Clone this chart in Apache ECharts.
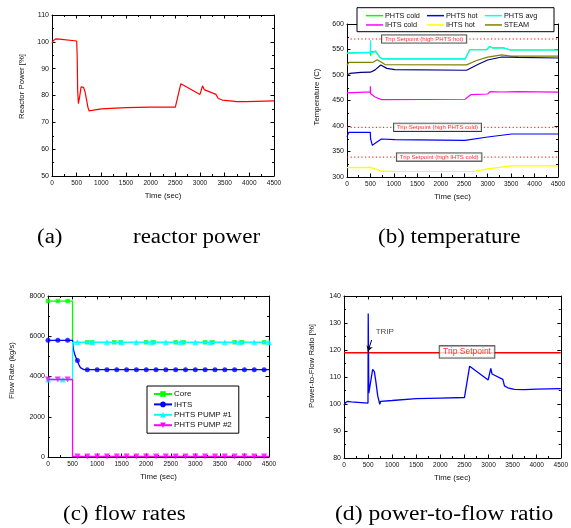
<!DOCTYPE html>
<html>
<head>
<meta charset="utf-8">
<title>Transient results</title>
<script src="https://cdn.jsdelivr.net/npm/echarts@6/dist/echarts.min.js"></script>
<style>
  html, body { margin: 0; padding: 0; background: #fff; }
  #chart { width: 571px; height: 528px; }
</style>
</head>
<body>
<div id="chart"></div>
<script>
// (a) reactor power [%] vs time (sec)
const power = [[0, 99.5], [20, 100.3], [75, 101.1], [150, 101], [500, 100.3], [510, 95], [520, 82], [535, 77],
  [560, 79.5], [590, 83.2], [605, 83.7], [640, 83], [670, 81.4], [700, 78.5], [730, 75.5], [751, 74.3], [770, 74.8],
  [791, 75], [1000, 75], [1500, 75.5], [2000, 75.7], [2500, 75.7], [2612, 84.4], [3000, 80.4], [3051, 83.6],
  [3085, 82.2], [3322, 80.4], [3370, 78.9], [3450, 78.3], [3606, 78], [3750, 77.7], [3944, 77.7], [4500, 78]]

// (b) temperatures [C]
const phtsCold = [[0, 543], [30, 544.5], [495, 544.5], [500, 548], [505, 538], [512, 546], [525, 543], [560, 546],
  [610, 546], [700, 535], [757, 531.5], [2520, 531.5], [2620, 549.5], [2980, 549.5], [3040, 556], [3110, 553],
  [3350, 553], [3490, 549], [4500, 549]]
const phtsHot = [[0, 378.4], [35, 387.6], [497, 387.6], [503, 375], [540, 362], [600, 366], [734, 374.5],
  [1020, 373.2], [2517, 371.9], [3000, 378.4], [3513, 384.3], [4500, 384.3]]
const phtsAvg = [[0, 543], [30, 544.5], [498, 544.5], [500, 568], [503, 544.5], [560, 544.5], [610, 547.5],
  [650, 545], [700, 535], [757, 531.5], [2520, 531.5], [2620, 549.5], [2980, 549.5], [3040, 556], [3110, 553],
  [3350, 553], [3490, 549], [4500, 549]]
const ihtsCold = [[0, 465], [30, 467], [497, 467], [500, 478], [504, 463], [540, 460], [600, 457], [734, 451.8],
  [2517, 452.5], [2638, 461.4], [3000, 462.7], [3050, 467.3], [3300, 466.7], [3650, 467.3], [4500, 466.5]]
const ihtsHot = [[0, 318.3], [500, 318.9], [520, 317], [734, 311.5], [1000, 311.2], [2700, 310.8], [3000, 316],
  [3513, 322], [4500, 321.8]]
const steam = [[0, 519], [40, 524.7], [498, 524.7], [515, 521.5], [560, 525], [640, 530], [700, 527], [810, 520.4],
  [2550, 519.8], [2750, 528], [3000, 535], [3300, 539.5], [3500, 537], [4500, 537]]
const phtsHotOut = [[0, 500], [60, 503], [300, 505], [500, 505.5], [530, 503], [600, 510], [720, 519.6],
  [850, 513], [1020, 510.5], [2550, 509.3], [2800, 521], [3000, 529.4], [3300, 535.3], [3650, 534.6], [4500, 533.3]]
const tripPHTSHot = 570.6
const tripPHTSCold = 397.4
const tripIHTSCold = 339
const tripTextsB = [[1645, tripPHTSHot, 'Trip Setpoint (high PHTS hot)'],
  [1930, tripPHTSCold, 'Trip Setpoint (high PHTS cold)'],
  [1965, tripIHTSCold, 'Trip Setpoint (high IHTS cold)']]

// (c) flow rates [kg/s]
const coreLine = [[0, 7750], [500, 7750], [500, 5700], [4500, 5700]]
const coreMarks = [[0, 7750], [200, 7750], [400, 7750], [800, 5700], [900, 5700], [1350, 5700], [1480, 5700],
  [2000, 5700], [2150, 5700], [2600, 5700], [2760, 5700], [3200, 5700], [3350, 5700], [3800, 5700], [3950, 5700],
  [4400, 5700]]
const ihtsLine = [[0, 5800], [500, 5800], [510, 5500], [522, 5310], [550, 5050], [590, 4820], [630, 4580],
  [660, 4440], [700, 4360], [730, 4340], [4500, 4340]]
const ihtsMarks = [[0, 5800], [200, 5800], [400, 5800], [600, 4800], [800, 4340], [1000, 4340], [1200, 4340],
  [1400, 4340], [1600, 4340], [1800, 4340], [2000, 4340], [2200, 4340], [2400, 4340], [2600, 4340], [2800, 4340],
  [3000, 4340], [3200, 4340], [3400, 4340], [3600, 4340], [3800, 4340], [4000, 4340], [4200, 4340], [4400, 4340]]
const pump1Line = [[0, 3850], [500, 3850], [500, 5700], [4500, 5700]]
const pump1Marks = [[0, 3850], [300, 3850], [600, 5700], [900, 5700], [1200, 5700], [1500, 5700], [1800, 5700],
  [2100, 5700], [2400, 5700], [2700, 5700], [3000, 5700], [3300, 5700], [3600, 5700], [3900, 5700], [4200, 5700],
  [4500, 5700]]
const pump2Line = [[0, 3850], [500, 3850], [500, 30], [4500, 30]]
const pump2Marks = [[0, 3850], [200, 3850], [400, 3850], [600, 30], [800, 30], [1000, 30], [1200, 30], [1400, 30],
  [1600, 30], [1800, 30], [2000, 30], [2200, 30], [2400, 30], [2600, 30], [2800, 30], [3000, 30], [3200, 30],
  [3400, 30], [3600, 30], [3800, 30], [4000, 30], [4200, 30], [4400, 30]]

// (d) power-to-flow ratio [%]
const ratio = [[0, 99.5], [30, 100.5], [80, 101], [150, 100.8], [498, 100.3], [503, 133.5], [515, 104],
  [530, 104.5], [560, 109], [595, 112.8], [630, 112], [660, 108.5], [700, 103], [743, 99.9], [760, 101],
  [800, 101.2], [1000, 101.3], [1500, 102], [2000, 102.2], [2500, 102.4], [2608, 114], [2993, 108.9],
  [3047, 113.2], [3074, 111.1], [3297, 109.1], [3331, 106.7], [3400, 106], [3534, 105.4], [3750, 105.3],
  [4000, 105.5], [4500, 105.7]]
const tripRatio = 119
const tripTextD = [2554, 119.3, 'Trip Setpoint']
const tripNote = [847, 126.7, 'TRIP']
const tripArrow = [[574, 123.7], [500, 119.6]]

const SANS = 'Arial, "Liberation Sans", sans-serif'
const SERIF = '"Times New Roman", "Liberation Serif", serif'

const chart = echarts.init(document.getElementById('chart'), null, { renderer: 'canvas' })

// axis pieces shared by all four panels
const tick = { inside: true, length: 3.5, lineStyle: { color: '#000', width: 1 } }
const minor = { show: true, splitNumber: 2, length: 2, lineStyle: { color: '#000', width: 1 } }
const line = { onZero: false, lineStyle: { color: '#000', width: 1 } }
const plainNum = v => String(v)

function xAxes (g) {
  const base = { gridIndex: g, type: 'value', min: 0, max: 4500, interval: 500, axisLine: line,
    axisTick: tick, minorTick: minor, splitLine: { show: false } }
  return [
    Object.assign({}, base, {
      name: 'Time (sec)', nameLocation: 'middle', nameGap: 16,
      nameTextStyle: { fontSize: 7.8, color: '#111', fontFamily: SANS },
      axisLabel: { fontSize: 6.5, margin: 4, color: '#111', fontFamily: SANS, formatter: plainNum }
    }),
    Object.assign({}, base, { position: 'top', axisLabel: { show: false } })
  ]
}

function yAxes (g, min, max, step, name, gap, pad) {
  const base = { gridIndex: g, type: 'value', min: min, max: max, interval: step, axisLine: line,
    axisTick: tick, minorTick: minor, splitLine: { show: false } }
  return [
    Object.assign({}, base, {
      name: name, nameLocation: 'middle', nameGap: gap,
      nameTextStyle: { fontSize: 7.8, color: '#111', fontFamily: SANS, padding: pad },
      axisLabel: { fontSize: 7, margin: 3, color: '#111', fontFamily: SANS, formatter: plainNum }
    }),
    Object.assign({}, base, { position: 'right', axisLabel: { show: false } })
  ]
}

function plain (name, data, color, axis, width) {
  return { name: name, type: 'line', data: data, xAxisIndex: axis, yAxisIndex: axis,
    symbol: 'none', showSymbol: false, lineStyle: { color: color, width: width || 1.2 },
    itemStyle: { color: color }, z: 2 }
}

function marked (name, lineData, marks, color, symbol, size, rotate) {
  return [
    { name: name, type: 'line', data: lineData, xAxisIndex: 4, yAxisIndex: 4,
      symbol: symbol, symbolSize: size, symbolRotate: rotate || 0, showSymbol: false,
      lineStyle: { color: color, width: 1.3 }, itemStyle: { color: color } },
    { name: name, type: 'scatter', data: marks, xAxisIndex: 4, yAxisIndex: 4,
      symbol: symbol, symbolSize: size, symbolRotate: rotate || 0, itemStyle: { color: color } }
  ]
}

function textMarks (data, axis, style) {
  return { type: 'scatter', data: data, xAxisIndex: axis, yAxisIndex: axis, symbolSize: 1,
    itemStyle: { color: 'rgba(0,0,0,0)' }, silent: true, z: 10,
    label: Object.assign({ show: true, position: 'inside', fontFamily: SANS,
      formatter: p => p.value[2] }, style) }
}

const tripBox = { color: '#ff0000', backgroundColor: '#fff', borderColor: '#000', borderWidth: 0.8 }
const dotted = { color: '#ff0000', width: 1, type: [1.2, 2.4] }

const option = {
  animation: false,
  backgroundColor: '#fff',
  textStyle: { fontFamily: SANS },
  grid: [
    { left: 52, top: 15, width: 222, height: 161 },
    { left: 347, top: 24, width: 211, height: 153 },
    { left: 48, top: 296, width: 221, height: 161 },
    { left: 344, top: 296, width: 222, height: 162 }
  ],
  xAxis: [].concat(xAxes(0), xAxes(1), xAxes(2), xAxes(3)),
  yAxis: [].concat(
    yAxes(0, 50, 110, 10, 'Reactor Power [%]', 26, [0, 0, 0, 18]),
    yAxes(1, 300, 600, 50, 'Temperature (C)', 26, [0, 0, 0, 7]),
    yAxes(2, 0, 8000, 2000, 'Flow Rate (kg/s)', 32, [0, 0, 0, 12]),
    yAxes(3, 80, 140, 10, 'Power-to-Flow Ratio [%]', 28, [0, 0, 0, 22])
  ),
  legend: [
    { data: ['PHTS cold', 'IHTS cold'], left: 366, top: 11, orient: 'vertical', icon: 'rect',
      itemWidth: 17, itemHeight: 1.5, itemGap: 0, padding: 0, z: 5,
      textStyle: { fontSize: 7.3, lineHeight: 9.3, color: '#111', padding: [0, 0, 0, -3] } },
    { data: ['PHTS hot', 'IHTS hot'], left: 427, top: 11, orient: 'vertical', icon: 'rect',
      itemWidth: 17, itemHeight: 1.5, itemGap: 0, padding: 0, z: 5,
      textStyle: { fontSize: 7.3, lineHeight: 9.3, color: '#111', padding: [0, 0, 0, -3] } },
    { data: ['PHTS avg', 'STEAM'], left: 485, top: 11, orient: 'vertical', icon: 'rect',
      itemWidth: 17, itemHeight: 1.5, itemGap: 0, padding: 0, z: 5,
      textStyle: { fontSize: 7.3, lineHeight: 9.3, color: '#111', padding: [0, 0, 0, -3] } },
    { data: ['Core', 'IHTS', 'PHTS PUMP #1', 'PHTS PUMP #2'], left: 147, top: 386, orient: 'vertical',
      itemWidth: 18, itemHeight: 7, itemGap: 2.4, padding: [4, 7, 4, 6],
      backgroundColor: '#fff', borderColor: '#000', borderWidth: 1,
      textStyle: { fontSize: 8, color: '#111', padding: [0, 0, 0, -3] } }
  ],
  graphic: [
    { type: 'rect', z: 3, shape: { x: 357, y: 7.7, width: 197, height: 24 },
      style: { fill: '#fff', stroke: '#000', lineWidth: 1 } },
    { type: 'text', x: 37, y: 238, scaleX: 1.15, style: { text: '(a)', font: '20px ' + SERIF, fill: '#000', verticalAlign: 'middle' } },
    { type: 'text', x: 133, y: 238, scaleX: 1.15, style: { text: 'reactor power', font: '20px ' + SERIF, fill: '#000', verticalAlign: 'middle' } },
    { type: 'text', x: 378, y: 238, scaleX: 1.15, style: { text: '(b) temperature', font: '20px ' + SERIF, fill: '#000', verticalAlign: 'middle' } },
    { type: 'text', x: 63, y: 515, scaleX: 1.15, style: { text: '(c) flow rates', font: '20px ' + SERIF, fill: '#000', verticalAlign: 'middle' } },
    { type: 'text', x: 335, y: 515, scaleX: 1.18, style: { text: '(d) power-to-flow ratio', font: '20px ' + SERIF, fill: '#000', verticalAlign: 'middle' } }
  ],
  series: [
    // (a)
    plain('Reactor Power', power, '#ff0000', 0),
    // (b) axis indices: bottom/left of grid 1 are index 2
    Object.assign(plain('trip hot', [[0, tripPHTSHot], [4500, tripPHTSHot]], '#ff0000', 2, 1), { lineStyle: dotted }),
    Object.assign(plain('trip cold', [[0, tripPHTSCold], [4500, tripPHTSCold]], '#ff0000', 2, 1), { lineStyle: dotted }),
    Object.assign(plain('trip ihts', [[0, tripIHTSCold], [4500, tripIHTSCold]], '#ff0000', 2, 1), { lineStyle: dotted }),
    plain('PHTS cold', phtsCold, '#00ff00', 2),
    plain('PHTS avg', phtsAvg, '#00ffff', 2),
    plain('STEAM', steam, '#808000', 2),
    plain('', phtsHotOut, '#000080', 2),
    plain('IHTS cold', ihtsCold, '#ff00ff', 2),
    plain('PHTS hot', phtsHot, '#0000ff', 2),
    plain('IHTS hot', ihtsHot, '#ffff00', 2),
    textMarks(tripTextsB, 2, Object.assign({ fontSize: 6, padding: [1, 3, 0.5, 3] }, tripBox)),
    // (c)
    ...marked('Core', coreLine, coreMarks, '#00ff00', 'rect', 4.5),
    ...marked('IHTS', ihtsLine, ihtsMarks, '#0000ff', 'circle', 5),
    ...marked('PHTS PUMP #1', pump1Line, pump1Marks, '#00ffff', 'triangle', 6),
    ...marked('PHTS PUMP #2', pump2Line, pump2Marks, '#ff00ff', 'triangle', 6, 180),
    // (d)
    plain('Trip Setpoint', [[0, tripRatio], [4500, tripRatio]], '#ff0000', 6, 1.4),
    Object.assign(plain('Power-to-Flow Ratio', ratio, '#0000ff', 6, 1.3), {
      markLine: {
        silent: true, symbol: ['none', 'arrow'], symbolSize: 5,
        lineStyle: { color: '#000', width: 1, type: 'solid' }, label: { show: false },
        data: [[{ coord: tripArrow[0] }, { coord: tripArrow[1] }]]
      }
    }),
    textMarks([tripTextD], 6, Object.assign({ fontSize: 8.5, padding: [1.5, 3.5, 1, 3.5] }, tripBox)),
    textMarks([tripNote], 6, { fontSize: 8, color: '#111' })
  ]
}

chart.setOption(option)
</script>
</body>
</html>
